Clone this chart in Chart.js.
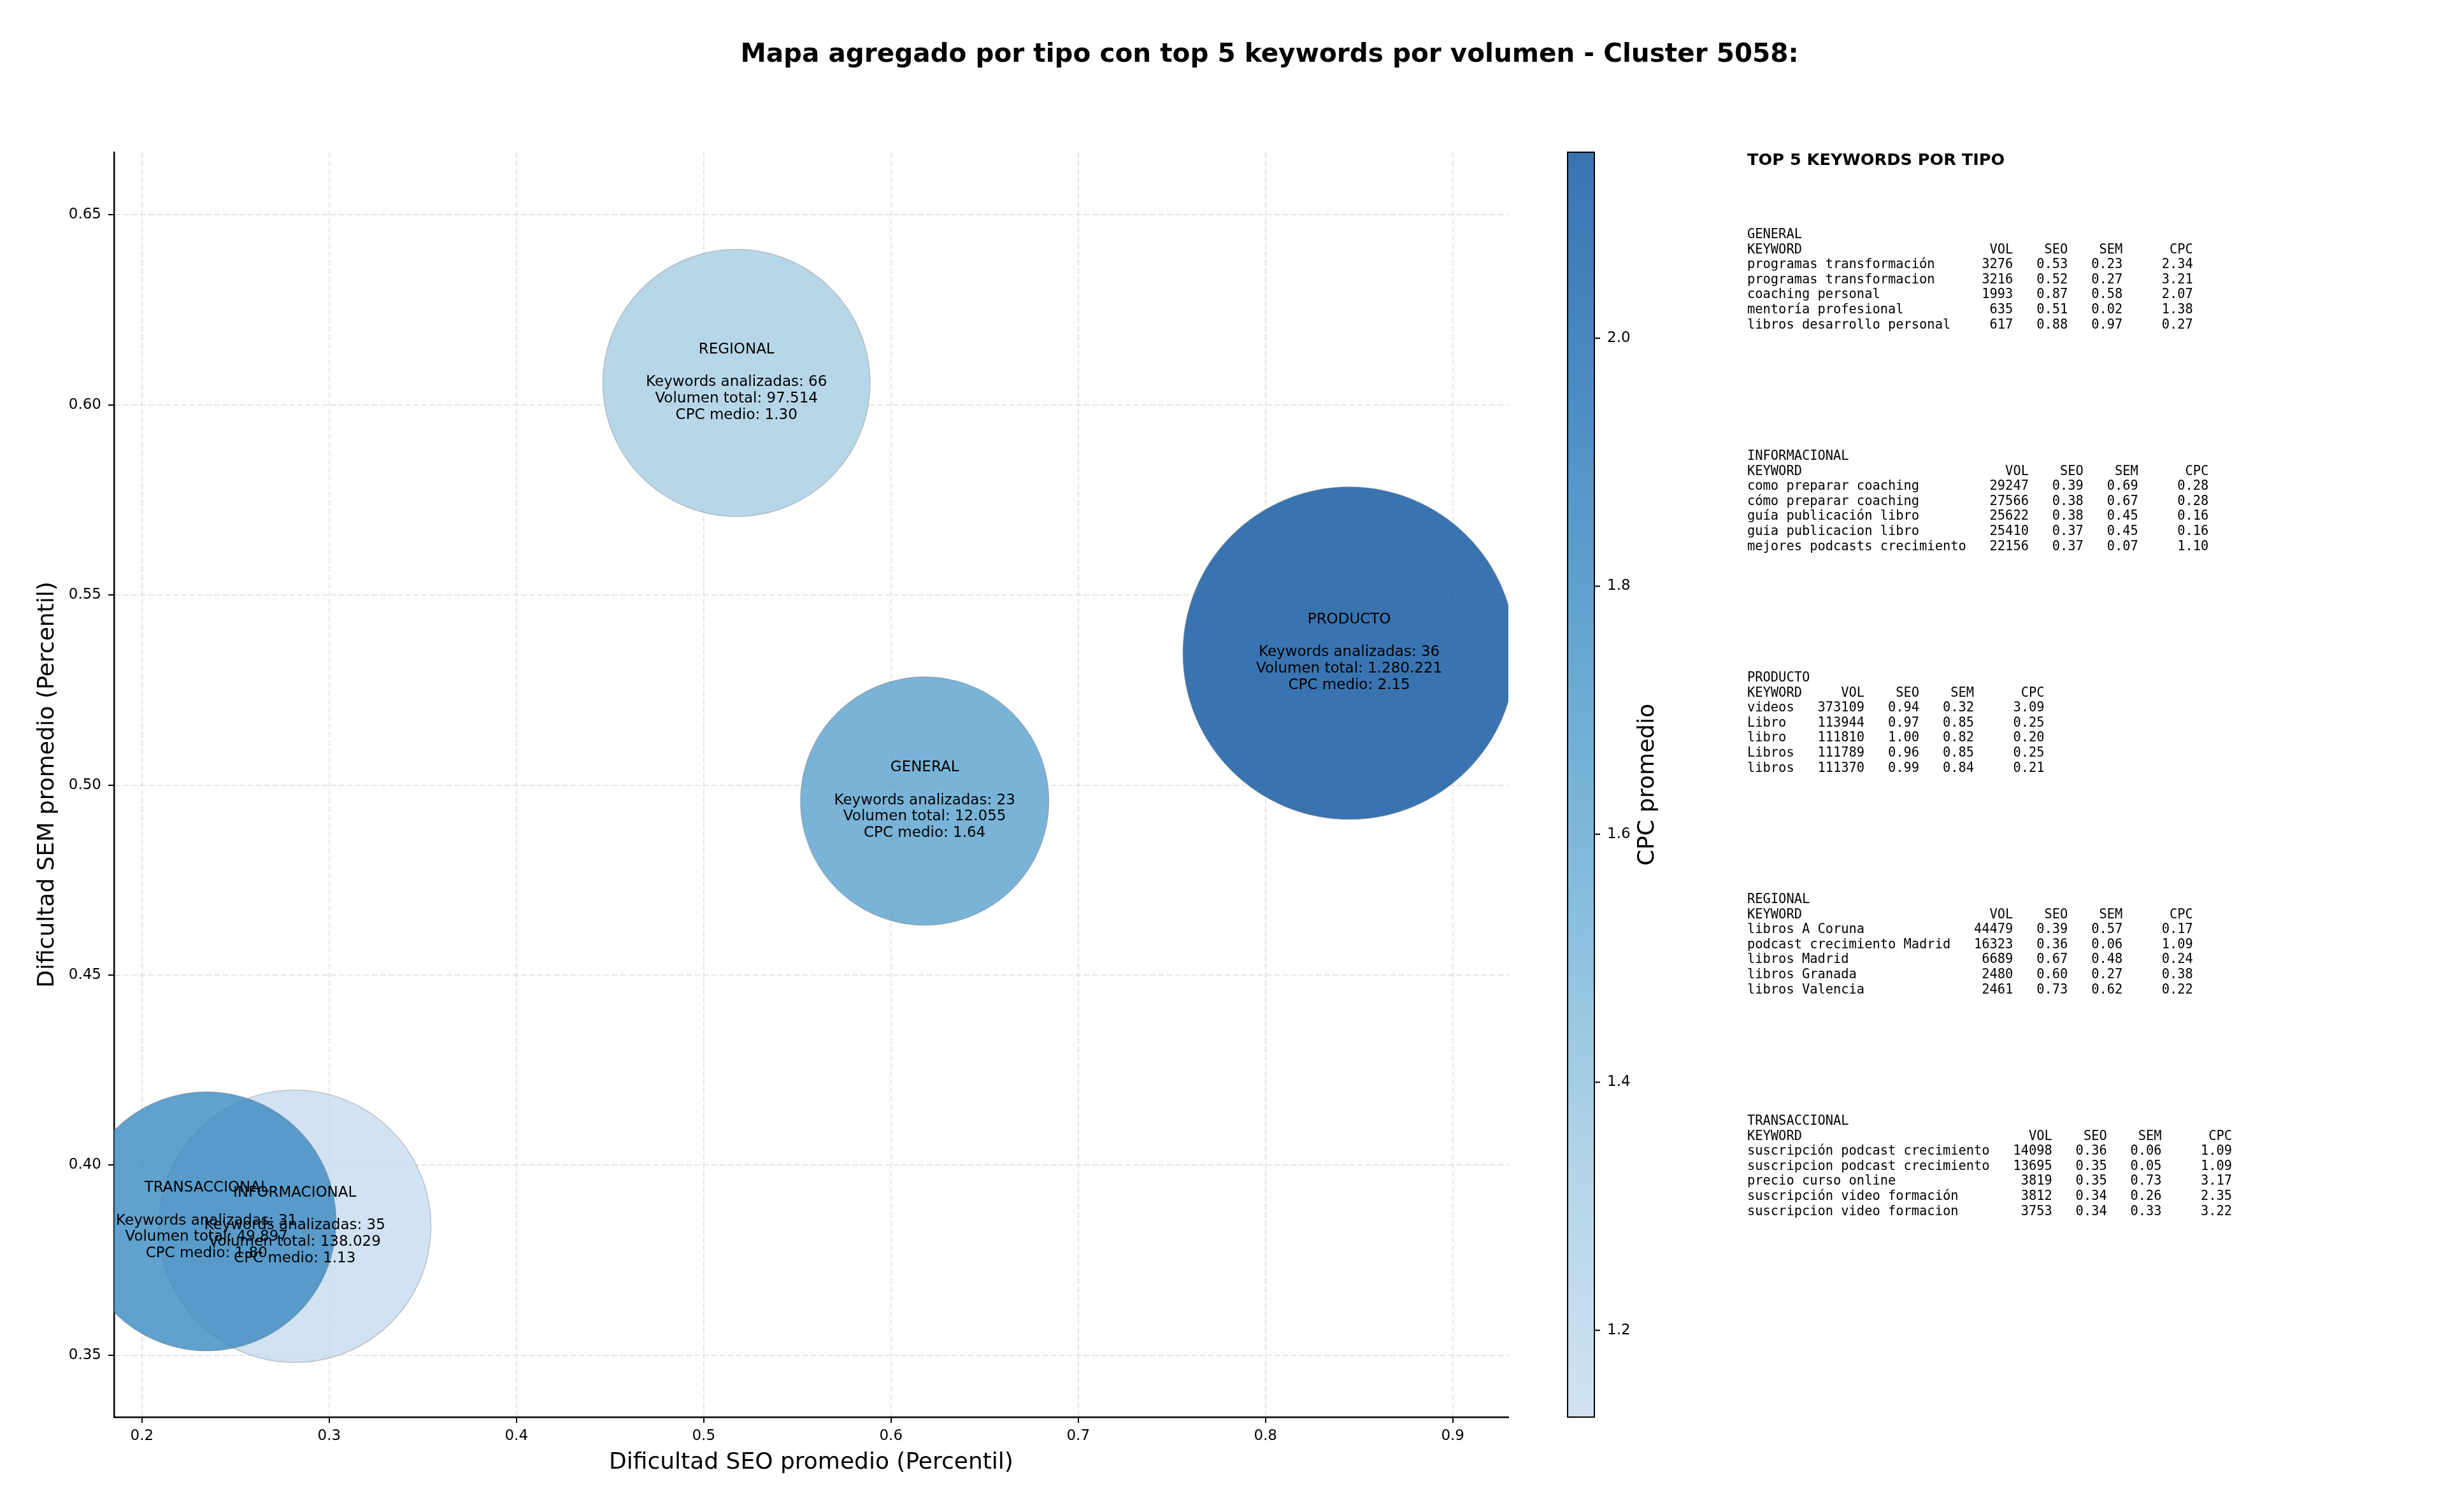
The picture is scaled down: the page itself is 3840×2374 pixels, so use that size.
<!DOCTYPE html>
<html>
<head>
<meta charset="utf-8">
<title>Mapa agregado por tipo - Cluster 5058</title>
<script src="https://cdn.jsdelivr.net/npm/chart.js@4.4.1/dist/chart.umd.min.js"></script>
<style>
  html, body { margin: 0; padding: 0; background: #fff; }
  #wrap { width: 3840px; height: 2374px; }
</style>
</head>
<body>
<div id="wrap"><canvas id="chart" width="3840" height="2374"></canvas></div>
<script>
// Aggregated values per keyword type
const tipos = ["GENERAL", "INFORMACIONAL", "PRODUCTO", "REGIONAL", "TRANSACCIONAL"];
const seoPromedio = [0.618, 0.2816, 0.8447, 0.5175, 0.2345];
const semPromedio = [0.4958, 0.3839, 0.5347, 0.6058, 0.3852];
const keywordsAnalizadas = [23, 35, 36, 66, 31];
const volumenTotal = [12055, 138029, 1280221, 97514, 49897];
const cpcMedio = [1.64, 1.13, 2.15, 1.30, 1.80];

// Tick labels
const xTickLabels = ["0.2", "0.3", "0.4", "0.5", "0.6", "0.7", "0.8", "0.9"];
const yTickLabels = ["0.35", "0.40", "0.45", "0.50", "0.55", "0.60", "0.65"];
const cbarTickLabels = ["1.2", "1.4", "1.6", "1.8", "2.0"];

// Top 5 keywords per type: [keyword, vol, seo, sem, cpc]
const topGeneral = [
  ["programas transformación", 3276, 0.53, 0.23, 2.34],
  ["programas transformacion", 3216, 0.52, 0.27, 3.21],
  ["coaching personal", 1993, 0.87, 0.58, 2.07],
  ["mentoría profesional", 635, 0.51, 0.02, 1.38],
  ["libros desarrollo personal", 617, 0.88, 0.97, 0.27]
];
const topInformacional = [
  ["como preparar coaching", 29247, 0.39, 0.69, 0.28],
  ["cómo preparar coaching", 27566, 0.38, 0.67, 0.28],
  ["guía publicación libro", 25622, 0.38, 0.45, 0.16],
  ["guia publicacion libro", 25410, 0.37, 0.45, 0.16],
  ["mejores podcasts crecimiento", 22156, 0.37, 0.07, 1.10]
];
const topProducto = [
  ["videos", 373109, 0.94, 0.32, 3.09],
  ["Libro", 113944, 0.97, 0.85, 0.25],
  ["libro", 111810, 1.00, 0.82, 0.20],
  ["Libros", 111789, 0.96, 0.85, 0.25],
  ["libros", 111370, 0.99, 0.84, 0.21]
];
const topRegional = [
  ["libros A Coruna", 44479, 0.39, 0.57, 0.17],
  ["podcast crecimiento Madrid", 16323, 0.36, 0.06, 1.09],
  ["libros Madrid", 6689, 0.67, 0.48, 0.24],
  ["libros Granada", 2480, 0.60, 0.27, 0.38],
  ["libros Valencia", 2461, 0.73, 0.62, 0.22]
];
const topTransaccional = [
  ["suscripción podcast crecimiento", 14098, 0.36, 0.06, 1.09],
  ["suscripcion podcast crecimiento", 13695, 0.35, 0.05, 1.09],
  ["precio curso online", 3819, 0.35, 0.73, 3.17],
  ["suscripción video formación", 3812, 0.34, 0.26, 2.35],
  ["suscripcion video formacion", 3753, 0.34, 0.33, 3.22]
];
const topTables = [topGeneral, topInformacional, topProducto, topRegional, topTransaccional];

// Style helpers
const SANS = '"DejaVu Sans", "Liberation Sans", sans-serif';
const MONO = '"DejaVu Sans Mono", "Liberation Mono", monospace';
const BLUES = [[247,251,255],[222,235,247],[198,219,239],[158,202,225],[107,174,214],[66,146,198],[33,113,181],[8,81,156],[8,48,107]];
const CMAP_LOW = 0.25, CMAP_HIGH = 0.875, ALPHA = 0.8;
const cpcMin = Math.min(...cpcMedio), cpcMax = Math.max(...cpcMedio);

const blues = (u) => {
  const p = Math.max(0, Math.min(1, u)) * 8;
  const i = Math.min(7, Math.floor(p));
  const f = p - i;
  return BLUES[i].map((c, k) => Math.round(c + (BLUES[i + 1][k] - c) * f));
};
const cmap = (v, a) => {
  const t = (v - cpcMin) / (cpcMax - cpcMin);
  return `rgba(${blues(CMAP_LOW + t * (CMAP_HIGH - CMAP_LOW)).join(",")},${a})`;
};
// bubble area grows with sqrt of volume
const radiusFor = (vol) => Math.sqrt(34790 + 29.46 * Math.sqrt(vol));
const fmtMiles = (n) => String(n).replace(/\B(?=(\d{3})+(?!\d))/g, ".");

// Extra drawing: title, bubble labels, colorbar, keyword tables
const decorPlugin = {
  id: "decor",
  afterDraw(chart) {
    const ctx = chart.ctx;
    const area = chart.chartArea;
    ctx.save();
    ctx.fillStyle = "#000";

    // title
    ctx.font = `bold 40.5px ${SANS}`;
    ctx.textAlign = "center";
    ctx.textBaseline = "middle";
    ctx.fillText("Mapa agregado por tipo con top 5 keywords por volumen - Cluster 5058:", 1993, 86);

    // labels inside bubbles
    ctx.font = `23px ${SANS}`;
    const lh = 25.8;
    chart.getDatasetMeta(0).data.forEach((pt, i) => {
      const lines = [
        tipos[i], "",
        `Keywords analizadas: ${keywordsAnalizadas[i]}`,
        `Volumen total: ${fmtMiles(volumenTotal[i])}`,
        `CPC medio: ${cpcMedio[i].toFixed(2)}`
      ];
      lines.forEach((ln, k) => ctx.fillText(ln, pt.x, pt.y + (k - 2) * lh - 1));
    });

    // colorbar
    const cbL = 2461, cbR = 2503, cbT = area.top, cbB = area.bottom;
    const grad = ctx.createLinearGradient(0, cbB, 0, cbT);
    for (let i = 0; i <= 5; i++) {
      grad.addColorStop(i / 5, `rgba(${BLUES[2 + i].join(",")},${ALPHA})`);
    }
    ctx.fillStyle = grad;
    ctx.fillRect(cbL, cbT, cbR - cbL, cbB - cbT);
    ctx.strokeStyle = "#000";
    ctx.lineWidth = 2;
    ctx.strokeRect(cbL, cbT, cbR - cbL, cbB - cbT);
    ctx.fillStyle = "#000";
    ctx.font = `23px ${SANS}`;
    ctx.textAlign = "left";
    cbarTickLabels.forEach((lab) => {
      const v = parseFloat(lab);
      const y = cbB - (v - cpcMin) / (cpcMax - cpcMin) * (cbB - cbT);
      ctx.beginPath();
      ctx.moveTo(cbR, y);
      ctx.lineTo(cbR + 9, y);
      ctx.stroke();
      ctx.fillText(lab, cbR + 20, y);
    });
    ctx.save();
    ctx.translate(2587, (cbT + cbB) / 2);
    ctx.rotate(-Math.PI / 2);
    ctx.textAlign = "center";
    ctx.font = `36px ${SANS}`;
    ctx.fillText("CPC promedio", 0, 0);
    ctx.restore();

    // keyword tables
    ctx.textAlign = "left";
    ctx.textBaseline = "alphabetic";
    ctx.font = `bold 25.6px ${SANS}`;
    ctx.fillText("TOP 5 KEYWORDS POR TIPO", 2743, 259);
    ctx.font = `20.4px ${MONO}`;
    topTables.forEach((rows, b) => {
      const w = Math.max(7, ...rows.map(r => r[0].length));
      const lines = [
        tipos[b],
        "KEYWORD".padEnd(w) + "VOL".padStart(8) + "SEO".padStart(7) + "SEM".padStart(7) + "CPC".padStart(9),
        ...rows.map(r => r[0].padEnd(w) + String(r[1]).padStart(8) + r[2].toFixed(2).padStart(7) +
          r[3].toFixed(2).padStart(7) + r[4].toFixed(2).padStart(9))
      ];
      const y0 = 374 + b * 348;
      lines.forEach((ln, k) => ctx.fillText(ln, 2743, y0 + k * 23.6));
    });
    ctx.restore();
  }
};

const ctx = document.getElementById("chart").getContext("2d");
new Chart(ctx, {
  type: "bubble",
  data: {
    datasets: [{
      data: tipos.map((t, i) => ({ x: seoPromedio[i], y: semPromedio[i], r: radiusFor(volumenTotal[i]) })),
      backgroundColor: cpcMedio.map(c => cmap(c, ALPHA)),
      borderColor: "rgba(110,110,110,0.35)",
      borderWidth: 1.5,
      clip: 0
    }]
  },
  options: {
    responsive: false,
    animation: false,
    events: [],
    layout: { autoPadding: false, padding: { left: 0, top: 239, right: 1472, bottom: 0 } },
    plugins: { legend: { display: false }, tooltip: { enabled: false } },
    scales: {
      x: {
        type: "linear",
        min: 0.1851,
        max: 0.9297,
        z: 1,
        afterBuildTicks: (s) => { s.ticks = xTickLabels.map(v => ({ value: parseFloat(v) })); },
        afterFit: (s) => { s.height = 149; },
        ticks: {
          callback: (v, i) => xTickLabels[i],
          color: "#000", font: { family: SANS, size: 23 },
          padding: 7, maxRotation: 0, autoSkip: false
        },
        grid: { color: "rgba(176,176,176,0.3)", lineWidth: 2, tickColor: "#000", tickLength: 9, tickWidth: 2 },
        border: { color: "#000", width: 2.5, dash: [9, 4] },
        title: {
          display: true, text: "Dificultad SEO promedio (Percentil)",
          color: "#000", font: { family: SANS, size: 36 }, padding: { top: 0, bottom: 56 }
        }
      },
      y: {
        type: "linear",
        min: 0.3337,
        max: 0.6665,
        z: 1,
        afterBuildTicks: (s) => { s.ticks = yTickLabels.map(v => ({ value: parseFloat(v) })); },
        afterFit: (s) => { s.width = 179; },
        ticks: {
          callback: (v, i) => yTickLabels[i],
          color: "#000", font: { family: SANS, size: 23 },
          padding: 11, autoSkip: false
        },
        grid: { color: "rgba(176,176,176,0.3)", lineWidth: 2, tickColor: "#000", tickLength: 9, tickWidth: 2 },
        border: { color: "#000", width: 2.5, dash: [9, 4] },
        title: {
          display: true, text: "Dificultad SEM promedio (Percentil)",
          color: "#000", font: { family: SANS, size: 36 }, padding: { top: 53, bottom: 0 }
        }
      }
    }
  },
  plugins: [decorPlugin]
});
</script>
</body>
</html>
